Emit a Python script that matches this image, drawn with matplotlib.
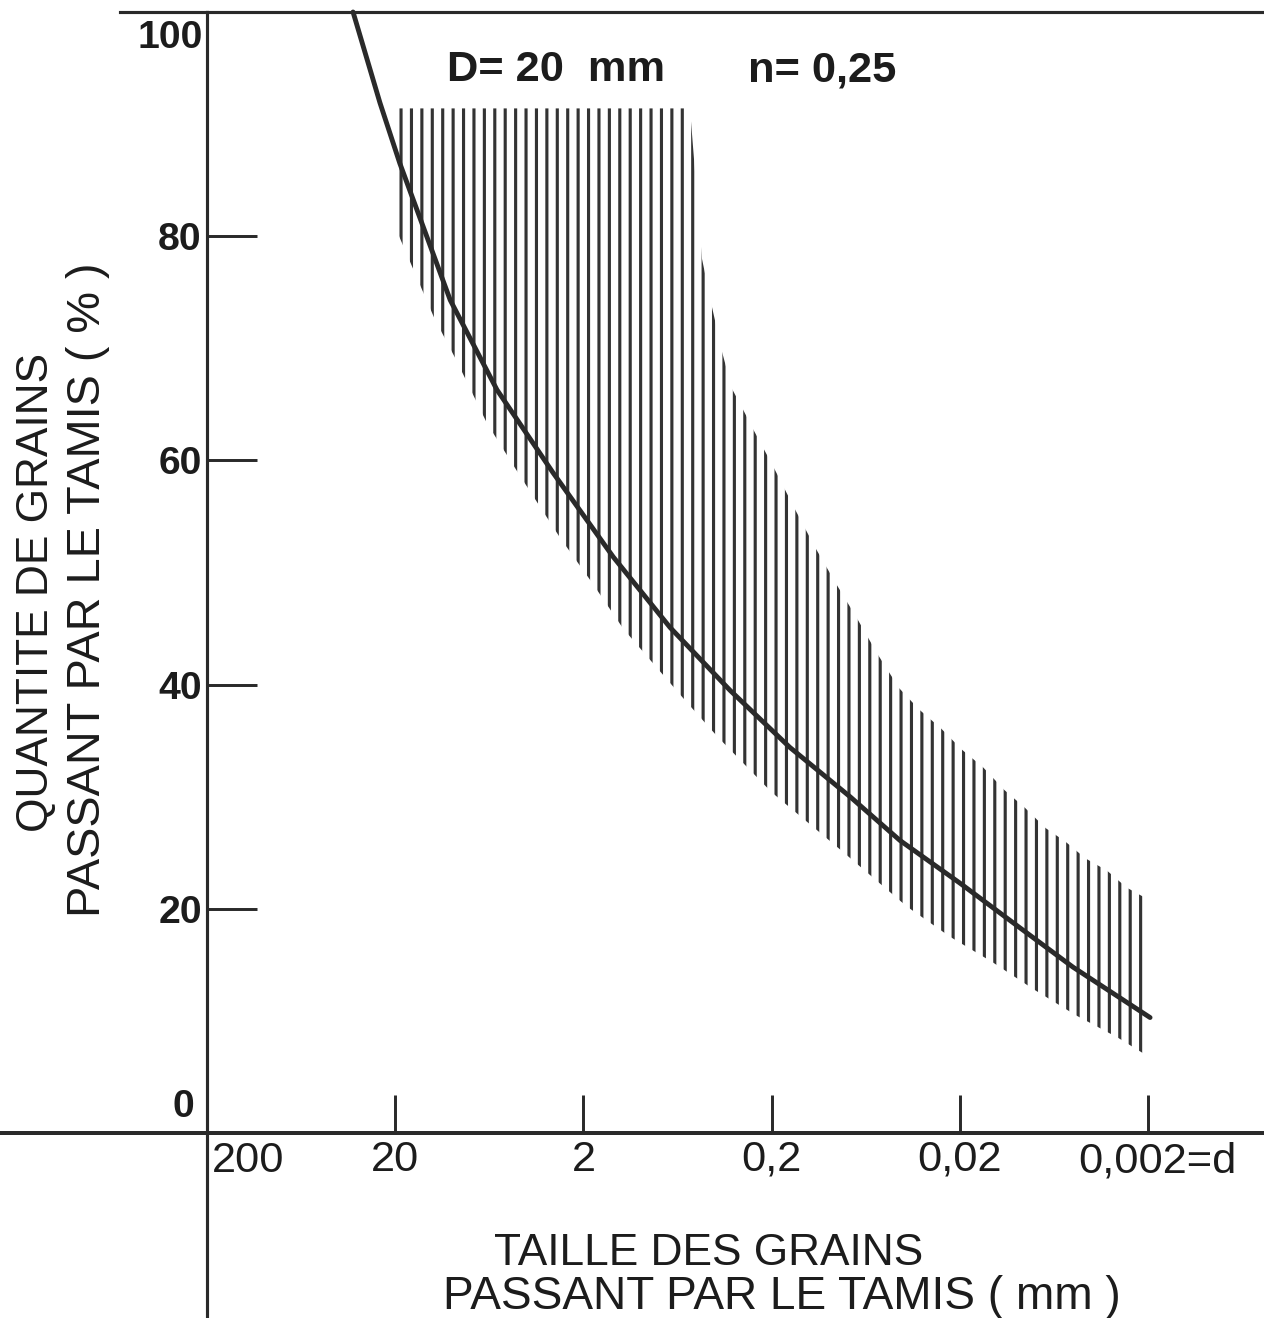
import numpy as np
import matplotlib
matplotlib.use("Agg")
import matplotlib.pyplot as plt
from matplotlib.ticker import NullLocator, FixedLocator, FixedFormatter

# ---------------- data ----------------
# Grading curve: grain size (mm) vs passing (%)
curve_d = [33.5, 24.1, 18.9, 10.2, 5.76, 2.90, 1.39, 0.693, 0.333, 0.160,
           0.0766, 0.0416, 0.020, 0.00923, 0.00501, 0.00195]
curve_p = [100.0, 91.9, 86.5, 74.3, 66.3, 58.9, 51.4, 45.1, 39.5, 34.4,
           30.0, 26.1, 22.3, 18.1, 14.8, 10.3]

# Hatched band: upper envelope
band_up_d = [20.0, 0.543, 0.469, 0.415, 0.367, 0.325, 0.287, 0.251, 0.194,
             0.152, 0.118, 0.0909, 0.0703, 0.0551, 0.0421, 0.0330, 0.0252,
             0.0195, 0.0150, 0.0116, 0.0090, 0.0070, 0.0055, 0.0043, 0.0033,
             0.0026, 0.00198]
band_up_p = [91.4, 91.4, 78.0, 73.7, 69.7, 66.4, 64.7, 62.8, 59.3,
             55.8, 52.3, 49.0, 45.9, 42.8, 39.7, 37.8, 36.1,
             34.2, 32.6, 30.6, 29.0, 27.2, 26.0, 24.5, 23.4,
             21.9, 20.8]
# Hatched band: lower envelope
band_lo_d = [20.0, 12.4, 9.51, 6.50, 4.45, 2.66, 1.80, 1.23, 0.833, 0.563,
             0.385, 0.200, 0.0866, 0.0382, 0.0225, 0.0133, 0.00807, 0.00483,
             0.00289, 0.00198]
band_lo_p = [80.8, 72.7, 69.0, 63.3, 58.9, 53.1, 49.1, 45.0, 41.7, 38.4,
             35.3, 30.4, 25.3, 20.2, 17.5, 15.2, 12.8, 10.5,
             8.5, 6.8]

x_ticks = [20, 2, 0.2, 0.02]
x_ticklabels = ["20", "2", "0,2", "0,02"]
y_ticks = [20, 40, 60, 80]
y_ticklabels = ["20", "40", "60", "80"]

# ---------------- figure ----------------
W, H, DPI = 1264, 1318, 125
plt.rcParams["font.family"] = ["Liberation Sans", "DejaVu Sans"]
plt.rcParams["hatch.linewidth"] = 1.8
plt.rcParams["hatch.color"] = "#333333"

fig = plt.figure(figsize=(W / DPI, H / DPI), dpi=DPI)
fig.patch.set_facecolor("white")

ax_left, ax_right, ax_top, ax_bot = 207, 1264, 12, 1133
ax = fig.add_axes([ax_left / W, 1 - ax_bot / H,
                   (ax_right - ax_left) / W, (ax_bot - ax_top) / H])
ax.set_xscale("log")
px_per_dec = (1148 - 207) / 5.0
ax.set_xlim(200, 200 * 10 ** (-(ax_right - ax_left) / px_per_dec))
ax.set_ylim(0, 100)
ax.set_facecolor("none")

line_col = "#2a2a2a"
txt_col = "#1c1c1c"

# hatched band
poly_d = np.concatenate([band_up_d, band_lo_d[::-1]])
poly_p = np.concatenate([band_up_p, band_lo_p[::-1]])
ax.fill(poly_d, poly_p, facecolor="none", edgecolor="#333333",
        hatch="||", linewidth=0, zorder=2)

# grading curve
ax.plot(curve_d, curve_p, color=line_col, lw=2.8, zorder=3,
        solid_capstyle="round", solid_joinstyle="round", clip_on=False)

# spines
ax.spines["right"].set_visible(False)
ax.spines["left"].set_linewidth(1.8)
ax.spines["bottom"].set_linewidth(2.3)
ax.spines["top"].set_linewidth(1.8)
for s in ["left", "bottom", "top"]:
    ax.spines[s].set_color(line_col)

# axis line extensions
ax.plot([-(ax_left) / (ax_right - ax_left), 0], [0, 0], transform=ax.transAxes,
        color=line_col, lw=2.3, clip_on=False)
ax.plot([0, 0], [0, -(H - ax_bot) / (ax_bot - ax_top)], transform=ax.transAxes,
        color=line_col, lw=1.8, clip_on=False)
ax.plot([-(ax_left - 120) / (ax_right - ax_left), 0], [1, 1], transform=ax.transAxes,
        color=line_col, lw=1.8, clip_on=False)

# ticks
ax.xaxis.set_major_locator(FixedLocator(x_ticks + [0.002]))
ax.xaxis.set_major_formatter(FixedFormatter(x_ticklabels + [""]))
ax.xaxis.set_minor_locator(NullLocator())
ax.yaxis.set_major_locator(FixedLocator(y_ticks))
ax.yaxis.set_major_formatter(FixedFormatter(y_ticklabels))
ax.yaxis.set_minor_locator(NullLocator())
ax.tick_params(axis="x", direction="in", length=38 * 72 / DPI, width=1.7,
               color=line_col, pad=4, labelsize=25, labelcolor=txt_col)
ax.tick_params(axis="y", direction="in", length=50 * 72 / DPI, width=1.7,
               color=line_col, pad=3, labelsize=22.5, labelcolor=txt_col)
for lab in ax.get_yticklabels():
    lab.set_fontweight("bold")


def fx(px):
    return px / W


def fy(py):
    return 1 - py / H


# extra tick labels
fig.text(fx(212), fy(1172), "200", ha="left", va="baseline", fontsize=25, color=txt_col)
fig.text(fx(1078), fy(1172), "0,002=d", ha="left", va="baseline", fontsize=25, color=txt_col)
fig.text(fx(194), fy(1117), "0", ha="right", va="baseline", fontsize=22.5,
         fontweight="bold", color=txt_col)
fig.text(fx(203), fy(48), "100", ha="right", va="baseline", fontsize=22.5,
         fontweight="bold", color=txt_col)

# annotations
fig.text(fx(447), fy(81), "D= 20  mm", ha="left", va="baseline", fontsize=25,
         fontweight="bold", color=txt_col)
fig.text(fx(748), fy(81), "n= 0,25", ha="left", va="baseline", fontsize=25,
         fontweight="bold", color=txt_col)

# axis titles
fig.text(fx(709), fy(1265), "TAILLE DES GRAINS", ha="center", va="baseline",
         fontsize=25.5, color=txt_col)
fig.text(fx(782), fy(1309), "PASSANT PAR LE TAMIS ( mm )", ha="center", va="baseline",
         fontsize=26.5, color=txt_col)
fig.text(fx(48), fy(592), "QUANTITE DE GRAINS", rotation=90, rotation_mode="anchor",
         ha="center", va="baseline", fontsize=25.5, color=txt_col)
fig.text(fx(100), fy(590), "PASSANT PAR LE TAMIS ( % )", rotation=90,
         rotation_mode="anchor", ha="center", va="baseline", fontsize=27, color=txt_col)

fig.savefig("out.png", dpi=DPI, facecolor="white")
